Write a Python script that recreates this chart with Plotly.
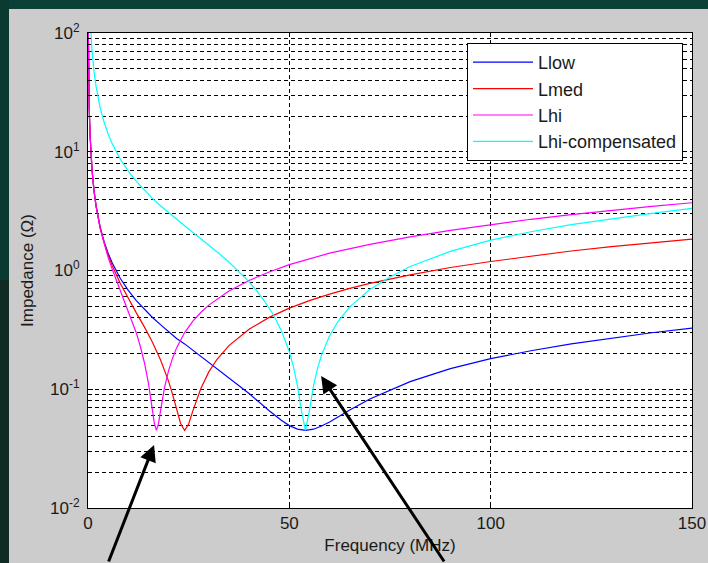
import math
import plotly.graph_objects as go

# ---------------- data ----------------
freq_llow = [0.06, 0.1, 0.2, 0.3, 0.5, 0.7, 1, 1.5, 2, 3, 4, 5, 6, 8, 10, 12, 14, 16, 18, 20,
             22, 24, 26, 28, 30, 35, 40, 45, 48, 50, 52, 54, 56, 58, 60, 65, 70, 80, 90, 100,
             110, 120, 130, 140, 150]
z_llow = [117, 70.4, 35.2, 23.5, 14.1, 10.1, 7.04, 4.69, 3.52, 2.34, 1.75, 1.40, 1.16, 0.861,
          0.680, 0.558, 0.469, 0.402, 0.350, 0.306, 0.268, 0.241, 0.214, 0.190, 0.169, 0.126,
          0.0920, 0.0660, 0.0548, 0.0494, 0.0462, 0.0450, 0.0461, 0.0490, 0.0530, 0.0668,
          0.0828, 0.116, 0.149, 0.181, 0.211, 0.241, 0.270, 0.299, 0.327]

freq_lmed = [0.06, 0.1, 0.2, 0.3, 0.5, 0.7, 1, 1.5, 2, 3, 4, 5, 6, 8, 10, 12, 14, 16, 18, 19,
             20, 21, 22, 23, 24, 25, 26, 27, 28, 30, 32, 35, 40, 45, 50, 55, 60, 65, 70, 80,
             90, 100, 110, 120, 130, 140, 150]
z_lmed = [117, 70.4, 35.2, 23.5, 14.1, 10.0, 7.03, 4.68, 3.50, 2.31, 1.71, 1.35, 1.10, 0.782,
          0.582, 0.440, 0.335, 0.249, 0.177, 0.145, 0.117, 0.0905, 0.0681, 0.0515, 0.0450,
          0.0510, 0.0651, 0.0826, 0.101, 0.140, 0.178, 0.233, 0.320, 0.403, 0.482, 0.558,
          0.633, 0.706, 0.779, 0.920, 1.06, 1.19, 1.32, 1.46, 1.59, 1.72, 1.84]

freq_lhi = [0.06, 0.1, 0.2, 0.3, 0.5, 0.7, 1, 1.5, 2, 3, 4, 5, 6, 7, 8, 9, 10, 11, 12, 13, 14,
            15, 16, 16.5, 17, 17.5, 18, 19, 20, 21, 22, 24, 26, 28, 30, 35, 40, 45, 50, 55,
            60, 70, 80, 90, 100, 110, 120, 130, 140, 150]
z_lhi = [117, 70.4, 35.2, 23.5, 14.1, 10.0, 7.02, 4.66, 3.47, 2.27, 1.66, 1.29, 1.03, 0.835,
         0.685, 0.563, 0.463, 0.375, 0.298, 0.229, 0.168, 0.113, 0.0673, 0.0512, 0.0450,
         0.0511, 0.0655, 0.103, 0.143, 0.183, 0.223, 0.300, 0.373, 0.443, 0.511, 0.672,
         0.824, 0.972, 1.12, 1.26, 1.40, 1.66, 1.92, 2.18, 2.44, 2.70, 2.95, 3.21, 3.47, 3.72]

freq_lhic = [0.6, 0.8, 1, 1.5, 2, 3, 4, 5, 6, 8, 10, 12, 14, 16, 18, 20, 22, 24, 26, 28, 30,
             32, 35, 38, 40, 42, 44, 46, 48, 50, 51, 52, 53, 54, 55, 56, 57, 58, 60, 62, 65,
             70, 75, 80, 90, 100, 110, 120, 130, 140, 150]
z_lhic = [118, 88.8, 71.0, 47.3, 35.5, 23.6, 17.7, 14.1, 11.7, 8.69, 6.86, 5.63, 4.73, 4.05,
          3.51, 3.07, 2.69, 2.38, 2.10, 1.86, 1.64, 1.44, 1.18, 0.943, 0.801, 0.668, 0.542,
          0.426, 0.313, 0.207, 0.156, 0.108, 0.066, 0.045, 0.0665, 0.106, 0.150, 0.194,
          0.282, 0.368, 0.494, 0.693, 0.882, 1.08, 1.45, 1.80, 2.12, 2.43, 2.73, 3.03, 3.34]

series_names = ["Llow", "Lmed", "Lhi", "Lhi-compensated"]
series_colors = ["#0000ff", "#ff0000", "#ff00ff", "#00ffff"]

x_tick_vals = [0, 50, 100, 150]
y_tick_vals = [0.01, 0.1, 1, 10, 100]
y_tick_text = ["10<sup>-2</sup>", "10<sup>-1</sup>", "10<sup>0</sup>", "10<sup>1</sup>", "10<sup>2</sup>"]

# arrow targets (frequency MHz, impedance ohm) and tail offsets in pixels
arrow_x = [16.4, 57.9]
arrow_y = [0.034, 0.129]
arrow_ax = [-46, 124]
arrow_ay = [133, 200]

# ---------------- layout geometry ----------------
W, H = 708, 563
ML, MR, MT, MB = 88, 16, 33, 55
PW, PH = W - ML - MR, H - MT - MB


def px(xp):
    return (xp - ML) / PW


def py(yp):
    return (H - MB - yp) / PH


FONT = "Liberation Sans, Arial, sans-serif"
TXT = "#1a1a1a"
GRID_DASH = "4px,3px"

fig = go.Figure()
for fx, zy, name, col in zip([freq_llow, freq_lmed, freq_lhi, freq_lhic],
                             [z_llow, z_lmed, z_lhi, z_lhic],
                             series_names, series_colors):
    fig.add_trace(go.Scatter(x=fx, y=zy, mode="lines", name=name, legendgroup=name,
                             line=dict(color=col, width=1.2)))

minor_vals = [k * 10 ** e for e in range(-2, 2) for k in range(2, 10)]

fig.update_layout(
    width=W, height=H, autosize=False,
    margin=dict(l=ML, r=MR, t=MT, b=MB, pad=0, autoexpand=False),
    paper_bgcolor="#cccccc", plot_bgcolor="white",
    font=dict(family=FONT, size=17, color=TXT),
    showlegend=True,
    legend=dict(x=px(467), y=py(43), xanchor="left", yanchor="top",
                bgcolor="white", bordercolor="black", borderwidth=1,
                font=dict(family=FONT, size=18, color=TXT),
                itemwidth=60, tracegroupgap=0, traceorder="grouped"),
    xaxis=dict(range=[0, 150], tickvals=x_tick_vals, ticks="inside", ticklen=5,
               tickcolor="black", showline=True, linecolor="black", linewidth=1, mirror=True,
               showgrid=True, gridcolor="black", griddash=GRID_DASH, gridwidth=1,
               zeroline=False, tickfont=dict(size=17, color=TXT), automargin=False,
               title=dict(text="Frequency (MHz)", standoff=6, font=dict(size=17, color=TXT))),
    yaxis=dict(type="log", range=[-2, 2], tickvals=y_tick_vals, ticktext=y_tick_text,
               ticks="inside", ticklen=5, tickcolor="black",
               showline=True, linecolor="black", linewidth=1, mirror=True,
               showgrid=True, gridcolor="black", griddash=GRID_DASH, gridwidth=1,
               zeroline=False, tickfont=dict(size=17, color=TXT), ticklabelstandoff=4,
               automargin=False,
               minor=dict(tickmode="array", tickvals=minor_vals, ticks="inside", ticklen=3,
                          tickcolor="black", showgrid=True, gridcolor="black",
                          griddash=GRID_DASH, gridwidth=1),
               title=dict(text="Impedance (Ω)", standoff=12, font=dict(size=17, color=TXT))),
)

# dark green frame of the slide around the grey figure
fig.add_shape(type="rect", xref="paper", yref="paper", x0=px(0), x1=px(W), y0=py(9), y1=py(0),
              fillcolor="#0a4035", line=dict(width=0), layer="above")
fig.add_shape(type="rect", xref="paper", yref="paper", x0=px(0), x1=px(9), y0=py(280), y1=py(0),
              fillcolor="#0b3a30", line=dict(width=0), layer="above")
fig.add_shape(type="rect", xref="paper", yref="paper", x0=px(0), x1=px(9), y0=py(H), y1=py(280),
              fillcolor="#102a24", line=dict(width=0), layer="above")

for ax_x, ax_y, dx, dy in zip(arrow_x, arrow_y, arrow_ax, arrow_ay):
    fig.add_annotation(x=ax_x, y=math.log10(ax_y), xref="x", yref="y", text="",
                       showarrow=True, arrowhead=2, arrowsize=1.1, arrowwidth=3,
                       arrowcolor="black", ax=dx, ay=dy, standoff=0)

fig.write_html("out.html")
